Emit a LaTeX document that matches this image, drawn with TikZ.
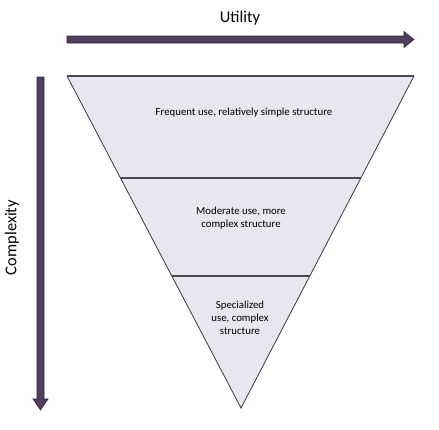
\documentclass[tikz,border=0pt]{standalone}
\usepackage{fontspec}
\setmainfont{Carlito}
\usetikzlibrary{calc}
\definecolor{arrowfill}{HTML}{4E3F5E}
\definecolor{arrowline}{HTML}{2E2440}
\definecolor{tri}{HTML}{E8E6F0}
\definecolor{edge}{HTML}{3A3A3A}
\definecolor{divider}{HTML}{4A4A4A}
\tikzset{
  axisarrow/.style={fill=arrowfill, draw=arrowline, line width=0.6pt, line join=miter},
  band/.style={fill=tri, draw=none},
  bandlabel/.style={font=\fontsize{10.8}{12.8}\selectfont, align=center, inner sep=0pt},
  axislabel/.style={font=\fontsize{16.5}{19}\selectfont, inner sep=0pt},
}
\begin{document}
\begin{tikzpicture}[x=1pt,y=-1pt]
\useasboundingbox (0,0) rectangle (439,429);
% triangle corners
\coordinate (TL) at (67,76);
\coordinate (TR) at (414,76);
\coordinate (AP) at (241,408);
% divider end points
\coordinate (D1L) at ($(TL)!0.3072!(AP)$);
\coordinate (D1R) at ($(TR)!0.3072!(AP)$);
\coordinate (D2L) at ($(TL)!0.6024!(AP)$);
\coordinate (D2R) at ($(TR)!0.6024!(AP)$);
\fill[tri] (TL) -- (TR) -- (AP) -- cycle;
\draw[edge, line width=0.8pt] (TL) -- (AP) -- (TR);
\draw[divider, line width=1.4pt] (TL) -- (TR);
\draw[divider, line width=1.4pt] (D1L) -- (D1R);
\draw[divider, line width=1.4pt] (D2L) -- (D2R);
% labels
\node[bandlabel] (b1) at (244,113) {Frequent use, relatively simple structure};
\node[bandlabel] (b2) at (241,218) {Moderate use, more\\complex structure};
\node[bandlabel] (b3) at (240,318) {Specialized\\use, complex\\structure};
% horizontal arrow
\draw[axisarrow] (67,36) -- (404,36) -- (404,31.5) -- (414,39.5) -- (404,47.5) -- (404,43) -- (67,43) -- cycle;
% vertical arrow
\draw[axisarrow] (37,77) -- (37,399) -- (33,399) -- (40.5,410) -- (48,399) -- (44,399) -- (44,77) -- cycle;
\node[axislabel] (util) at (240,18) {Utility};
\node[axislabel, rotate=90] (cplx) at (12,237.5) {Complexity};
\end{tikzpicture}
\end{document}
